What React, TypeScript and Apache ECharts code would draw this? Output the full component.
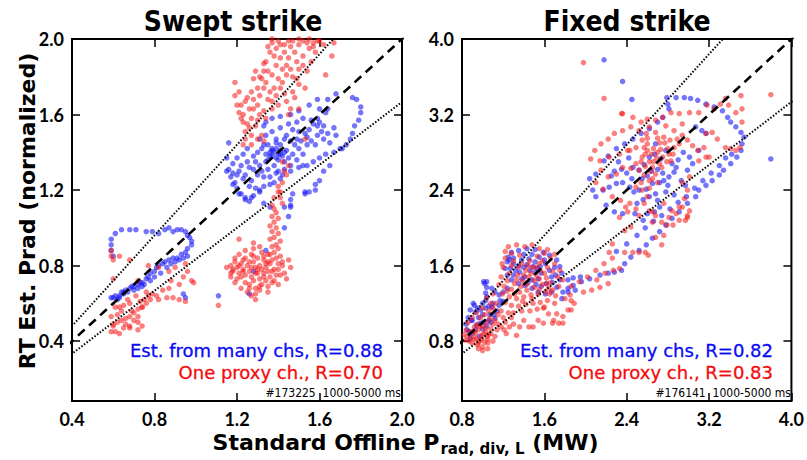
import React, { useEffect, useRef } from "react";
import * as echarts from "echarts";

// Axis ranges and tick values for the two panels
const sweptXRange = [0.4, 2.0];
const sweptYRange = [0.083, 2.0];
const sweptTicks = [0.4, 0.8, 1.2, 1.6, 2.0];
const fixedXRange = [0.8, 4.0];
const fixedYRange = [0.166, 4.0];
const fixedTicks = [0.8, 1.6, 2.4, 3.2, 4.0];

// Reference lines: y = x (dashed) and y = 1.2x, y = x/1.2 (dotted)
const refSlopes = [1, 1.2, 1 / 1.2];

const sweptR = { many: "0.88", proxy: "0.70" };
const fixedR = { many: "0.82", proxy: "0.83" };
const sweptShot = "#173225  1000-5000 ms";
const fixedShot = "#176141  1000-5000 ms";

// Swept strike: estimate from many channels [offline, RT]
const sweptMany = [
  [0.59,0.63],[0.60,0.63],[0.61,0.64],[0.63,0.64],[0.64,0.66],[0.65,0.66],[0.66,0.67],[0.68,0.68],[0.69,0.69],[0.70,0.69],
  [0.72,0.70],[0.73,0.71],[0.74,0.71],[0.76,0.73],[0.77,0.74],[0.78,0.76],[0.80,0.77],[0.81,0.79],[0.82,0.80],[0.84,0.81],
  [0.85,0.82],[0.87,0.83],[0.89,0.84],[0.91,0.84],[0.93,0.86],[0.95,0.87],[0.96,0.89],[0.98,0.91],[0.98,0.93],[0.97,0.95],
  [0.96,0.96],[0.95,0.98],[0.93,0.99],[0.91,0.99],[0.89,0.98],[0.87,1.00],[0.85,0.99],[0.82,0.97],[0.79,0.98],[0.76,0.98],
  [0.71,0.99],[0.68,0.99],[0.64,0.99],[0.61,0.97],[0.59,0.94],[0.59,0.91],[0.59,0.88],[0.60,0.85],
  [0.62,0.62],[0.63,0.63],[0.65,0.65],[0.67,0.66],[0.70,0.67],[0.72,0.68],[0.74,0.69],[0.75,0.70],[0.78,0.72],[0.80,0.74],
  [0.83,0.76],[0.86,0.79],[0.88,0.81],[0.90,0.82],[0.92,0.83],[0.94,0.84],[0.96,0.85],[0.95,0.63],[0.94,0.65],
  [1.11,0.64],[1.26,0.65],[1.28,0.77],
  [1.68,1.71],[1.64,1.68],[1.59,1.68],[1.55,1.65],[1.50,1.62],[1.46,1.60],[1.41,1.59],[1.37,1.58],[1.34,1.56],[1.33,1.54],
  [1.76,1.69],[1.78,1.68],[1.80,1.64],[1.80,1.61],[1.79,1.57],[1.77,1.54],[1.76,1.50],[1.75,1.47],[1.73,1.44],[1.71,1.42],
  [1.67,1.53],[1.68,1.49],[1.64,1.63],[1.60,1.63],[1.63,1.61],[1.59,1.58],[1.57,1.55],[1.59,1.54],[1.61,1.51],[1.59,1.49],
  [1.55,1.52],[1.54,1.48],[1.50,1.51],[1.49,1.47],[1.46,1.46],[1.44,1.49],[1.41,1.44],[1.39,1.47],[1.37,1.42],[1.34,1.39],
  [1.33,1.44],[1.30,1.40],[1.28,1.38],[1.25,1.42],[1.23,1.39],[1.20,1.37],[1.18,1.34],[1.16,1.31],[1.17,1.27],[1.19,1.24],
  [1.20,1.21],[1.22,1.18],[1.24,1.16],[1.26,1.14],[1.28,1.17],[1.31,1.19],[1.33,1.22],[1.36,1.23],[1.38,1.24],[1.41,1.26],
  [1.21,1.30],[1.24,1.28],[1.28,1.31],[1.31,1.33],[1.34,1.35],[1.37,1.38],[1.41,1.39],[1.44,1.41],[1.47,1.39],[1.50,1.42],
  [1.54,1.44],[1.52,1.39],[1.49,1.36],[1.46,1.33],[1.43,1.31],[1.46,1.30],[1.50,1.32],[1.54,1.33],[1.57,1.35],[1.60,1.37],
  [1.63,1.39],[1.67,1.40],[1.70,1.42],[1.58,1.23],[1.55,1.19],[1.53,1.18],[1.60,1.25],[1.46,1.12],[1.43,1.11],
  [1.31,1.47],[1.34,1.49],[1.37,1.51],[1.41,1.53],[1.45,1.55],[1.49,1.56],[1.52,1.58],
  [1.36,1.38],[1.38,1.40],[1.40,1.39],[1.37,1.41],[1.39,1.37],[1.41,1.41],[1.35,1.36],[1.42,1.38],[1.39,1.42],[1.36,1.40],
  [1.40,1.36],[1.43,1.40],[1.16,1.45],[1.15,1.37],[1.15,1.30],[1.18,1.23],[1.21,1.18],[1.24,1.15],[1.27,1.16],[1.31,1.20],
  [1.47,1.18],[1.46,1.15],[1.53,1.19],[1.58,1.20],[1.33,1.13],[1.36,1.11],[1.45,1.06],[1.46,1.11],[1.43,1.00],[1.34,0.88],
  [1.22,1.33],[1.25,1.35],[1.27,1.25],[1.30,1.28],[1.32,1.30],[1.35,1.31],[1.38,1.33],[1.40,1.30],[1.43,1.35],[1.45,1.37],
  [1.48,1.44],[1.51,1.46],[1.53,1.50],[1.56,1.46],[1.58,1.44],[1.62,1.47],[1.64,1.50],[1.65,1.45],[1.62,1.54],[1.60,1.56],
  [1.56,1.57],[1.47,1.52],[1.43,1.47],[1.39,1.45],[1.35,1.44],[1.32,1.42],[1.29,1.35],[1.26,1.32],[1.23,1.26],[1.20,1.28],
  [1.18,1.29],[1.26,1.22],[1.29,1.21],[1.33,1.27],[1.36,1.27],[1.39,1.29],[1.42,1.28],[1.52,1.33],[1.62,1.30],[1.65,1.33],
];

// Swept strike: one proxy channel [offline, RT]
const sweptProxy = [
  [0.59,0.85],[0.60,0.83],[0.63,0.85],[0.68,0.83],[0.59,0.88],[0.60,0.73],[0.72,0.72],[0.77,0.80],[0.82,0.79],[0.87,0.77],
  [0.90,0.79],[0.95,0.81],[0.96,0.77],[0.98,0.72],[0.99,0.71],[0.94,0.74],[0.87,0.68],[0.84,0.67],[0.81,0.64],[0.82,0.62],
  [0.86,0.63],[0.89,0.63],[0.92,0.62],[0.95,0.61],[0.78,0.62],[0.76,0.60],[0.74,0.58],[0.72,0.57],[0.69,0.56],[0.68,0.53],
  [0.70,0.51],[0.72,0.50],[0.74,0.48],[0.72,0.46],[0.68,0.47],[0.66,0.49],[0.64,0.51],[0.62,0.54],[0.59,0.53],[0.60,0.48],
  [0.59,0.45],[0.63,0.44],[0.64,0.56],[0.63,0.58],[0.68,0.60],[0.75,0.62],[0.77,0.64],[0.79,0.65],[0.60,0.49],[0.61,0.45],
  [0.68,0.48],[0.72,0.53],[0.74,0.58],[0.66,0.52],[0.62,0.50],[0.65,0.47],[0.70,0.55],[0.76,0.66],[0.73,0.61],[0.71,0.64],
  [0.67,0.62],[0.65,0.59],[0.61,0.58],[0.88,0.72],[0.92,0.70],
  [1.19,1.77],[1.19,1.70],[1.20,1.65],[1.21,1.61],[1.23,1.56],[1.24,1.51],[1.24,1.47],[1.26,1.53],[1.27,1.58],[1.28,1.63],
  [1.28,1.68],[1.30,1.74],[1.32,1.79],[1.33,1.83],[1.34,1.88],[1.36,1.93],[1.37,1.98],[1.39,1.95],[1.41,1.97],[1.43,1.93],
  [1.46,1.96],[1.48,1.93],[1.50,1.97],[1.54,1.98],[1.57,1.98],[1.59,1.99],[1.55,1.95],[1.52,1.91],[1.49,1.88],[1.46,1.84],
  [1.44,1.81],[1.42,1.77],[1.41,1.74],[1.39,1.70],[1.37,1.67],[1.36,1.72],[1.34,1.77],[1.33,1.74],[1.31,1.70],[1.30,1.65],
  [1.31,1.60],[1.29,1.54],[1.27,1.49],[1.32,1.49],[1.34,1.58],[1.37,1.63],[1.40,1.65],[1.44,1.67],[1.47,1.72],[1.50,1.76],
  [1.53,1.74],[1.49,1.79],[1.54,1.83],[1.50,1.84],[1.63,1.81],[1.66,1.91],[1.67,1.98],[1.21,1.72],[1.22,1.65],[1.24,1.67],
  [1.26,1.63],[1.23,1.60],[1.25,1.55],[1.45,1.60],[1.46,1.63],[1.50,1.63],[1.41,1.90],[1.39,1.86],[1.45,1.90],[1.37,1.81],
  [1.40,1.79],[1.42,1.84],[1.35,1.83],[1.28,1.79],[1.29,1.83],[1.37,2.00],[1.40,1.99],[1.45,1.99],[1.50,2.00],[1.55,2.00],
  [1.60,1.99],[1.43,1.97],[1.47,1.99],[1.52,1.99],[1.57,1.96],[1.62,1.97],[1.58,1.93],[1.35,1.96],[1.38,1.91],[1.33,1.87],
  [1.31,1.80],[1.27,1.72],[1.25,1.69],[1.22,1.58],[1.30,1.57],[1.33,1.62],[1.35,1.68],[1.38,1.74],[1.43,1.71],[1.48,1.69],
  [1.52,1.86],[1.56,1.88],[1.47,1.80],[1.44,1.86],
  [1.23,1.44],[1.30,1.47],[1.33,1.46],[1.42,1.35],[1.43,1.30],[1.44,1.28],[1.42,1.24],[1.41,1.19],[1.38,1.16],[1.37,1.12],
  [1.53,1.47],[1.27,1.44],[1.45,1.33],[1.40,1.22],
  [1.42,1.13],[1.41,1.16],[1.40,1.19],[1.38,1.10],[1.39,1.08],[1.37,1.06],[1.40,1.05],[1.38,1.03],[1.36,1.01],[1.39,1.00],
  [1.37,0.98],[1.40,0.97],[1.38,0.95],[1.36,0.94],[1.41,0.93],[1.39,0.91],[1.37,0.90],[1.40,0.89],[1.38,0.87],[1.36,0.86],
  [1.41,0.85],[1.39,0.84],[1.37,0.83],[1.42,0.82],[1.40,0.81],
  [1.17,0.80],[1.18,0.78],[1.17,0.76],[1.19,0.82],[1.20,0.79],[1.21,0.76],[1.20,0.73],[1.22,0.81],[1.23,0.78],[1.22,0.74],
  [1.24,0.71],[1.24,0.84],[1.25,0.80],[1.26,0.77],[1.27,0.74],[1.26,0.70],[1.27,0.86],[1.28,0.82],[1.29,0.79],[1.28,0.72],
  [1.29,0.68],[1.30,0.84],[1.31,0.80],[1.30,0.76],[1.31,0.73],[1.32,0.70],[1.32,0.87],[1.33,0.83],[1.34,0.79],[1.33,0.76],
  [1.34,0.72],[1.35,0.69],[1.36,0.81],[1.35,0.77],[1.36,0.74],[1.37,0.71],[1.38,0.78],[1.39,0.75],[1.38,0.72],[1.40,0.78],
  [1.41,0.75],[1.42,0.80],[1.43,0.76],[1.25,0.66],[1.27,0.64],[1.29,0.65],[1.31,0.67],[1.22,0.68],[1.19,0.71],[1.24,0.88],
  [1.21,0.86],[1.19,0.84],[1.28,0.89],[1.31,0.90],[1.35,0.86],[1.46,0.79],[1.45,0.83],[1.40,0.70],[1.44,0.73],[1.23,0.77],
  [1.26,0.82],[1.30,0.78],[1.33,0.74],[1.35,0.82],[1.17,0.74],[1.15,0.79],[1.29,0.62],[1.11,0.59],[1.28,0.92],[1.21,0.94],
  [1.18,0.77],[1.21,0.80],[1.24,0.75],[1.27,0.79],[1.29,0.76],[1.32,0.78],[1.34,0.81],[1.37,0.77],[1.26,0.68],[1.31,0.69],
  [1.35,0.66],[1.23,0.83],[1.28,0.85],[1.33,0.85],
];

// Fixed strike: estimate from many channels [offline, RT]
const fixedMany = [
  [2.18,3.78],[2.36,3.55],[2.45,3.36],[3.80,2.73],
  [2.79,3.38],[2.80,3.31],[2.81,3.26],[2.88,3.38],[2.96,3.38],[3.02,3.37],[3.09,3.35],[3.17,3.31],[3.25,3.28],[3.33,3.24],
  [3.38,3.17],[3.41,3.12],[3.46,3.07],[3.51,3.01],[3.54,2.96],[3.52,2.89],[3.51,2.82],[3.47,2.75],[3.41,2.68],[3.34,2.61],
  [3.30,2.56],[3.23,2.50],[3.17,2.45],[3.10,2.40],[3.07,2.33],[2.99,2.26],[2.91,2.17],[2.84,2.10],[2.78,2.03],[2.72,1.96],
  [2.65,1.89],[2.59,1.82],[2.52,1.76],[2.44,1.69],[2.38,1.62],[2.35,1.55],[2.28,1.53],[2.22,1.52],[2.14,1.50],[2.04,1.46],
  [1.96,1.43],[1.88,1.39],[1.83,1.36],[1.78,1.32],[1.83,1.45],[1.88,1.47],[1.95,1.48],
  [2.30,1.75],[2.40,1.83],[2.50,1.92],[2.58,2.00],[2.66,2.07],[2.74,2.13],[2.82,2.20],[2.90,2.27],[2.98,2.33],[3.06,2.42],
  [3.14,2.50],[3.22,2.58],[3.30,2.66],[3.36,2.74],[3.42,2.78],
  [3.07,3.07],[3.13,3.03],[3.17,3.00],[3.10,2.82],[3.01,2.75],[3.04,2.68],[2.99,2.61],
  [2.17,2.40],[2.23,2.43],[2.30,2.47],[2.36,2.48],[2.43,2.43],[2.47,2.38],[2.52,2.40],[2.59,2.41],[2.65,2.47],[2.72,2.48],
  [2.76,2.50],[2.81,2.54],[2.86,2.59],[2.88,2.64],[2.84,2.68],[2.68,2.36],[2.70,2.29],[2.72,2.22],[2.67,2.17],[2.46,2.64],
  [2.52,2.61],[2.57,2.67],[2.62,2.75],[2.67,2.78],[2.73,2.73],[2.78,2.82],[2.68,2.89],
  [2.04,2.52],[2.10,2.57],[2.18,2.71],[2.22,2.76],[2.30,2.84],[2.38,2.89],[2.46,2.94],[2.54,3.00],[2.62,3.05],[2.70,3.12],
  [2.75,3.17],[2.10,2.33],[2.07,2.40],[2.20,2.24],[2.28,2.17],[2.36,2.15],
  [2.55,2.52],[2.60,2.55],[2.64,2.60],[2.70,2.62],[2.75,2.58],[2.80,2.45],[2.78,2.38],[2.62,2.33],[2.56,2.30],[2.50,2.26],
  [2.45,2.52],[2.40,2.58],[2.35,2.62],[2.28,2.60],[2.25,2.55],[2.32,2.70],[2.42,2.74],[2.90,2.72],[2.95,2.80],[2.93,2.50],
  [2.97,2.45],[2.86,2.35],[2.56,2.08],[2.48,2.15],[2.60,2.15],
  [1.25,1.69],[1.28,1.74],[1.35,1.76],[1.43,1.78],[1.51,1.77],[1.59,1.74],[1.65,1.71],[1.72,1.66],[1.75,1.59],[1.77,1.52],
  [1.75,1.45],[1.72,1.37],[1.67,1.32],[1.61,1.30],[1.54,1.32],[1.48,1.36],[1.41,1.39],[1.35,1.41],[1.28,1.45],[1.24,1.50],
  [1.22,1.57],[1.24,1.64],[1.38,1.66],[1.45,1.67],[1.51,1.64],[1.56,1.59],[1.57,1.52],[1.54,1.46],[1.48,1.45],[1.41,1.48],
  [1.36,1.53],[1.35,1.60],[1.40,1.58],[1.46,1.55],[1.51,1.53],[1.61,1.62],[1.65,1.55],[1.67,1.48],[1.62,1.41],[1.57,1.38],
  [1.32,1.55],[1.30,1.62],[1.83,1.32],[1.90,1.34],[1.77,1.25],
  [1.30,1.68],[1.40,1.72],[1.48,1.72],[1.55,1.69],[1.60,1.66],[1.70,1.58],[1.71,1.50],[1.68,1.42],[1.52,1.40],[1.44,1.42],
  [1.38,1.46],[1.30,1.50],[1.27,1.57],[1.43,1.61],[1.49,1.59],[1.53,1.57],
  [0.87,0.90],[0.90,1.02],[0.93,1.11],[0.98,1.13],[1.03,1.15],[1.09,1.16],[1.16,1.18],[1.20,1.22],[1.03,1.23],[1.03,1.31],
  [1.04,1.37],[1.04,1.43],[1.09,1.36],[1.12,1.32],[1.16,1.29],[1.20,1.32],[1.24,1.36],[0.85,0.92],[0.88,0.83],[0.98,0.99],
  [1.06,1.02],[1.11,1.08],[0.91,1.20],[0.88,1.13],[0.89,1.02],[0.94,0.97],[1.01,1.00],[1.07,1.08],[1.02,1.41],[1.01,1.43],
  [1.04,1.27],[1.10,1.20],[1.17,1.23],[0.90,0.88],[0.93,0.92],[0.96,1.05],[1.00,1.08],[0.95,1.15],[0.92,1.18],[0.86,1.05],
  [0.84,0.98],[1.00,0.93],[1.04,0.96],[1.08,1.00],[1.12,1.04],[1.14,1.12],[1.06,1.17],[1.00,1.20],[0.97,0.85],[1.26,1.66],
];

// Fixed strike: one proxy channel [offline, RT]
const fixedProxy = [
  [1.98,3.75],[2.18,3.37],[2.35,3.21],[3.80,3.41],
  [2.36,3.21],[2.46,3.17],[2.54,3.12],[2.60,3.15],[2.68,3.14],[2.75,3.17],[2.83,3.22],[2.91,3.21],[3.01,3.22],[3.10,3.22],
  [3.18,3.30],[3.25,3.26],[3.31,3.31],[3.39,3.30],[3.46,3.22],[3.52,3.26],[3.51,3.40],[3.52,3.12],[3.36,3.37],[3.23,3.01],
  [3.28,2.94],[3.17,3.00],[2.94,3.10],[2.86,3.03],[2.78,3.08],[2.68,3.01],[2.62,3.07],[2.52,3.03],[2.44,3.07],[2.36,3.03],
  [2.28,3.00],[2.22,2.94],[2.15,2.89],[2.09,2.82],[2.05,2.73],[2.14,2.71],[2.23,2.75],[2.33,2.78],[2.41,2.82],[2.49,2.85],
  [2.55,2.93],[2.59,3.00],[2.57,2.85],[2.60,2.89],[2.60,2.82],[2.55,2.75],[2.49,2.68],[2.44,2.63],[2.52,2.61],[2.57,2.56],
  [2.62,2.50],[2.54,2.48],[2.49,2.43],[2.55,2.40],[2.60,2.33],[2.57,2.26],[2.62,2.18],[2.68,2.13],[2.76,2.26],[2.81,2.78],
  [2.86,2.85],[2.91,2.89],[2.80,2.84],[2.75,2.75],[2.72,2.68],[2.65,2.64],[2.68,2.57],[2.83,2.71],[2.89,2.94],[2.94,2.98],
  [2.99,2.93],[3.04,2.87],[3.09,2.82],[3.15,2.85],[3.17,2.75],[3.10,2.71],[3.01,2.54],[2.94,2.48],[2.99,2.40],[2.96,2.31],
  [2.91,2.22],[3.01,2.18],[2.99,2.11],[2.81,2.11],[2.88,2.15],[2.43,2.82],[2.36,2.64],[2.30,2.57],[2.22,2.54],[2.15,2.61],
  [2.10,2.48],[2.17,2.41],[2.26,2.33],[2.34,2.29],[2.43,2.26],[2.49,2.20],[2.41,2.17],[2.33,2.11],[3.36,2.85],[3.41,2.84],
  [3.46,2.82],[3.50,2.85],[3.20,2.75],
  [2.58,2.65],[2.62,2.70],[2.64,2.78],[2.66,2.84],[2.70,2.80],[2.72,2.90],[2.60,2.95],[2.63,2.60],[2.66,2.70],[2.69,2.74],
  [2.73,2.83],[2.77,2.90],[2.58,2.78],[2.54,2.70],[2.70,2.95],[2.76,2.96],[2.82,2.93],[2.85,2.78],[2.79,2.70],[2.74,2.64],
  [2.65,2.52],[2.70,2.48],[2.62,2.42],
  [2.39,2.22],[2.52,2.13],[2.65,2.17],[2.84,2.18],[2.94,2.22],[2.99,2.13],[2.97,2.08],[2.91,2.08],[2.38,1.97],[2.44,2.01],
  [2.26,1.83],[2.23,1.74],[2.38,1.74],[2.46,1.74],[2.52,1.74],[2.58,1.74],[2.61,1.71],[2.68,1.90],[2.76,1.92],[2.74,1.82],
  [2.79,2.03],[2.74,2.06],[2.65,2.06],[2.85,2.03],
  [2.33,1.57],[2.27,1.55],[2.22,1.41],[2.14,1.37],[2.06,1.34],[1.98,1.32],[1.85,1.29],[1.80,1.25],[2.19,1.52],[2.11,1.45],
  [1.86,1.38],[1.94,1.43],[2.02,1.48],[2.10,1.55],[2.18,1.62],[2.26,1.68],
  [1.55,1.46],[1.62,1.41],[1.65,1.30],[1.70,1.20],[1.72,1.09],[1.68,0.99],[1.59,0.99],[1.78,0.99],[1.86,1.13],[1.89,1.20],
  [1.86,1.23],[1.83,1.13],[1.78,1.06],[1.74,0.99],[1.69,1.02],[1.64,1.09],[1.59,1.15],[1.54,1.02],[1.49,0.95],[1.45,0.95],
  [1.40,1.02],[1.36,0.95],[1.33,0.86],
  [1.25,1.80],[1.33,1.82],[1.41,1.80],[1.48,1.82],[1.28,1.73],[1.36,1.71],[1.22,1.68],[1.30,1.65],[1.38,1.62],[1.46,1.65],
  [1.53,1.70],[1.60,1.73],[1.66,1.68],[1.70,1.62],[1.63,1.58],[1.55,1.62],[1.48,1.58],[1.42,1.55],[1.34,1.50],[1.26,1.52],
  [1.20,1.58],[1.18,1.48],[1.24,1.44],[1.31,1.41],[1.39,1.44],[1.45,1.48],[1.52,1.50],[1.60,1.52],[1.68,1.54],[1.73,1.48],
  [1.66,1.42],[1.58,1.40],[1.50,1.37],[1.43,1.34],[1.36,1.32],[1.28,1.35],[1.21,1.38],[1.16,1.40],[1.19,1.30],[1.26,1.27],
  [1.33,1.25],[1.40,1.27],[1.47,1.29],[1.54,1.30],[1.61,1.32],[1.68,1.34],[1.74,1.38],[1.71,1.28],[1.63,1.23],[1.56,1.21],
  [1.49,1.20],[1.42,1.19],[1.35,1.17],[1.28,1.18],[1.22,1.21],[1.30,1.10],[1.38,1.12],[1.46,1.12],[1.53,1.14],[1.60,1.16],
  [1.43,1.40],[1.50,1.44],[1.37,1.38],[1.56,1.55],[1.62,1.47],[1.35,1.58],[1.44,1.60],[1.52,1.58],[1.28,1.60],[1.33,1.45],
  [1.40,1.50],[1.47,1.52],[1.55,1.35],[1.48,1.25],[1.39,1.22],[1.31,1.30],[1.24,1.33],[1.58,1.65],[1.63,1.77],[1.55,1.78],
  [1.70,1.72],[1.75,1.55],[1.78,1.45],[1.64,1.36],[1.19,1.62],[1.22,1.75],
  [0.85,0.85],[0.87,0.80],[0.90,0.78],[0.92,0.82],[0.95,0.76],[0.97,0.80],[1.00,0.74],[1.02,0.79],[1.05,0.82],[0.88,0.90],
  [0.93,0.88],[0.96,0.92],[0.99,0.86],[1.03,0.90],[1.06,0.87],[1.08,0.93],[1.10,0.98],[0.95,0.98],[1.00,0.96],[1.04,1.00],
  [1.07,1.04],[1.12,1.02],[1.15,1.08],[1.02,1.08],[1.06,1.12],[1.10,1.15],[1.13,1.20],[0.98,1.05],[0.92,0.95],[1.18,1.12],
  [1.20,1.05],[1.22,1.00],[1.18,0.95],[1.14,0.92],[1.25,1.10],[1.28,1.05],[1.00,0.70],[1.05,0.72],[0.96,0.72],[1.10,0.80],
  [1.12,0.85],[0.84,0.92],[0.82,0.87],[0.86,1.00],[0.90,1.05],[0.94,1.10],[1.00,1.15],[1.08,1.20],[1.04,1.26],[1.10,1.30],
  [1.05,0.78],[0.83,0.81],[0.96,0.78],[0.99,0.82],[1.01,0.88],[1.04,0.85],[0.89,0.84],[0.91,0.90],[0.97,0.96],[1.03,0.94],
  [0.94,0.83],[1.08,0.88],[1.15,0.98],[1.21,0.92],[1.26,0.95],[1.30,0.98],[1.23,0.88],
];

const BLUE = "rgba(22, 22, 245, 0.74)";
const RED = "rgba(245, 20, 20, 0.68)";
const BLUE_TEXT = "#0a0af5";
const RED_TEXT = "#f50a0a";

const TITLE_FONT = "'Liberation Sans Narrow', 'DejaVu Sans Condensed', sans-serif";
const AXIS_FONT = "'DejaVu Sans', sans-serif";
const TICK_FONT = "Lato, 'DejaVu Sans', sans-serif";

const grids = [
  { left: 72, top: 39, width: 330, height: 362 },
  { left: 462, top: 39, width: 331, height: 362 },
];

const fmt = (v: number) => v.toFixed(1);

function xAxesFor(gridIndex: number, range: number[], ticks: number[]) {
  const base = {
    type: "value" as const,
    gridIndex,
    min: range[0],
    max: range[1],
    splitLine: { show: false },
    axisLine: { show: false },
    axisTick: { inside: true, length: 8, customValues: ticks, lineStyle: { color: "#000", width: 1.5 } },
  };
  return [
    {
      ...base,
      position: "bottom",
      axisLabel: {
        customValues: ticks, formatter: fmt, margin: 9, color: "#000",
        fontFamily: TICK_FONT, fontWeight: "bold", fontSize: 18,
      },
    },
    { ...base, position: "top", axisLabel: { show: false } },
  ];
}

function yAxesFor(gridIndex: number, range: number[], ticks: number[]) {
  const base = {
    type: "value" as const,
    gridIndex,
    min: range[0],
    max: range[1],
    splitLine: { show: false },
    axisLine: { show: false },
    axisTick: { inside: true, length: 8, customValues: ticks, lineStyle: { color: "#000", width: 1.5 } },
  };
  return [
    {
      ...base,
      position: "left",
      axisLabel: {
        customValues: ticks, formatter: fmt, margin: 8, color: "#000",
        fontFamily: TICK_FONT, fontWeight: "bold", fontSize: 18,
      },
    },
    { ...base, position: "right", axisLabel: { show: false } },
  ];
}

function scatter(data: number[][], axisIdx: number, color: string) {
  return {
    type: "scatter",
    xAxisIndex: axisIdx,
    yAxisIndex: axisIdx,
    data,
    symbol: "circle",
    symbolSize: 5.5,
    itemStyle: { color },
    silent: true,
    z: 2,
  };
}

function refLines(axisIdx: number, xmax: number) {
  return refSlopes.map((s, i) => ({
    type: "line",
    xAxisIndex: axisIdx,
    yAxisIndex: axisIdx,
    data: [[0, 0], [xmax, xmax * s]],
    symbol: "none",
    clip: true,
    silent: true,
    z: 3,
    lineStyle: i === 0
      ? { color: "#000", width: 2.6, type: [9, 6] }
      : { color: "#000", width: 2, type: [1.5, 1.8] },
  }));
}

function measure(text: string, font: string) {
  const ctx = document.createElement("canvas").getContext("2d")!;
  ctx.font = font;
  return ctx.measureText(text).width;
}

function legendTexts(rightX: number, r: { many: string; proxy: string }, shot: string) {
  return [
    {
      type: "text", x: rightX, y: 350, z: 10,
      style: {
        text: `Est. from many chs, R=${r.many}`, fill: BLUE_TEXT, align: "right", verticalAlign: "middle",
        font: `18px ${AXIS_FONT}`, stroke: BLUE_TEXT, lineWidth: 0.3,
      },
    },
    {
      type: "text", x: rightX, y: 372, z: 10,
      style: {
        text: `One proxy ch., R=${r.proxy}`, fill: RED_TEXT, align: "right", verticalAlign: "middle",
        font: `18px ${AXIS_FONT}`, stroke: RED_TEXT, lineWidth: 0.3,
      },
    },
    {
      type: "text", x: rightX + 18, y: 393, z: 1,
      style: {
        text: shot, fill: "#000", align: "right", verticalAlign: "middle",
        font: `12px ${TITLE_FONT}`,
      },
    },
  ];
}

function xTitle() {
  const mainFont = `bold 22px ${AXIS_FONT}`;
  const subFont = `bold 15px ${AXIS_FONT}`;
  const a = "Standard Offline P";
  const b = "rad, div, L";
  const c = " (MW)";
  const wa = measure(a, mainFont);
  const wb = measure(b, subFont);
  const wc = measure(c, mainFont);
  const x0 = 405 - (wa + wb + wc) / 2;
  return [
    { type: "text", x: x0, y: 442, style: { text: a, font: mainFont, fill: "#000", verticalAlign: "middle" } },
    { type: "text", x: x0 + wa + 1, y: 449, style: { text: b, font: subFont, fill: "#000", verticalAlign: "middle" } },
    { type: "text", x: x0 + wa + wb + 1, y: 442, style: { text: c, font: mainFont, fill: "#000", verticalAlign: "middle" } },
  ];
}

export default function App() {
  const ref = useRef<HTMLDivElement>(null);

  useEffect(() => {
    const chart = echarts.init(ref.current!, null, { renderer: "svg" });
    const option = {
      animation: false,
      backgroundColor: "#fff",
      grid: grids.map((g) => ({ ...g, show: true, borderColor: "#000", borderWidth: 2, containLabel: false })),
      xAxis: [...xAxesFor(0, sweptXRange, sweptTicks), ...xAxesFor(1, fixedXRange, fixedTicks)],
      yAxis: [...yAxesFor(0, sweptYRange, sweptTicks), ...yAxesFor(1, fixedYRange, fixedTicks)],
      series: [
        scatter(sweptMany, 0, BLUE),
        scatter(sweptProxy, 0, RED),
        ...refLines(0, 3),
        scatter(fixedMany, 2, BLUE),
        scatter(fixedProxy, 2, RED),
        ...refLines(2, 6),
      ],
      graphic: [
        {
          type: "text", x: 233, y: 21,
          style: { text: "Swept strike", font: `bold 28px ${TITLE_FONT}`, fill: "#000", align: "center", verticalAlign: "middle" },
        },
        {
          type: "text", x: 627, y: 21,
          style: { text: "Fixed strike", font: `bold 28px ${TITLE_FONT}`, fill: "#000", align: "center", verticalAlign: "middle" },
        },
        {
          type: "text", x: 27, y: 211, rotation: Math.PI / 2,
          style: { text: "RT Est. Prad (normalized)", font: `bold 22px ${AXIS_FONT}`, fill: "#000", align: "center", verticalAlign: "middle" },
        },
        ...xTitle(),
        ...legendTexts(383, sweptR, sweptShot),
        ...legendTexts(773, fixedR, fixedShot),
      ],
    };
    chart.setOption(option as any);
    return () => chart.dispose();
  }, []);

  return (
    <div
      ref={ref}
      style={{ position: "absolute", left: 0, top: 0, width: 807, height: 460, background: "#fff" }}
    />
  );
}
